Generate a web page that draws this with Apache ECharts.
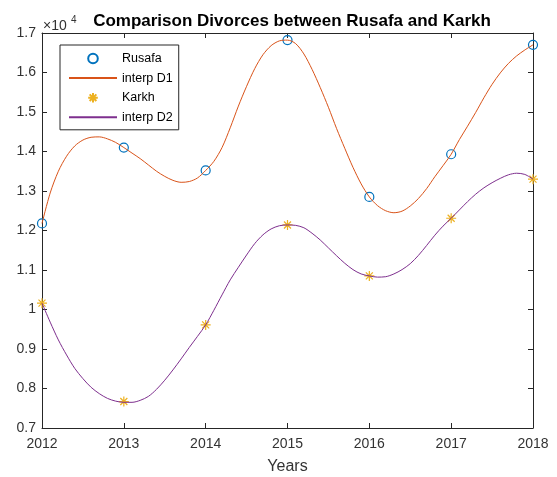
<!DOCTYPE html>
<html>
<head>
<meta charset="utf-8">
<script src="https://cdn.jsdelivr.net/npm/echarts@6/dist/echarts.min.js"></script>
<style>
html,body{margin:0;padding:0;background:#fff;}
#chart{width:557px;height:477px;}
</style>
</head>
<body>
<div id="chart"></div>
<script>
// Data (divorce counts)
var years = [2012, 2013, 2014, 2015, 2016, 2017, 2018];
var rusafa = [12180, 14100, 13520, 16820, 12850, 13930, 16700];
var karkh = [10160, 7670, 9610, 12140, 10850, 12310, 13300];

// Interpolated curves (every 0.1 year)
var interpYears = [2012, 2012.1, 2012.2, 2012.3, 2012.4, 2012.5, 2012.6, 2012.7, 2012.8, 2012.9,
  2013, 2013.1, 2013.2, 2013.3, 2013.4, 2013.5, 2013.6, 2013.7, 2013.8, 2013.9,
  2014, 2014.1, 2014.2, 2014.3, 2014.4, 2014.5, 2014.6, 2014.7, 2014.8, 2014.9,
  2015, 2015.1, 2015.2, 2015.3, 2015.4, 2015.5, 2015.6, 2015.7, 2015.8, 2015.9,
  2016, 2016.1, 2016.2, 2016.3, 2016.4, 2016.5, 2016.6, 2016.7, 2016.8, 2016.9,
  2017, 2017.1, 2017.2, 2017.3, 2017.4, 2017.5, 2017.6, 2017.7, 2017.8, 2017.9, 2018];
var interpD1Values = [12180, 12950, 13500, 13880, 14140, 14290, 14360, 14370, 14320, 14230,
  14100, 13960, 13820, 13660, 13500, 13370, 13270, 13220, 13240, 13330,
  13520, 13750, 14100, 14600, 15150, 15650, 16100, 16450, 16680, 16800,
  16820, 16730, 16470, 16080, 15620, 15120, 14580, 14080, 13600, 13180,
  12850, 12630, 12500, 12450, 12490, 12620, 12810, 13060, 13360, 13640,
  13930, 14300, 14640, 14990, 15360, 15700, 15990, 16230, 16420, 16570, 16700];
var interpD2Values = [10160, 9680, 9230, 8850, 8510, 8250, 8030, 7870, 7750, 7680,
  7650, 7650, 7700, 7800, 7980, 8210, 8470, 8750, 9040, 9320,
  9610, 9980, 10370, 10750, 11070, 11380, 11670, 11890, 12040, 12120,
  12140, 12130, 12070, 11930, 11760, 11560, 11360, 11170, 11010, 10900,
  10850, 10820, 10830, 10900, 11010, 11160, 11370, 11620, 11880, 12110,
  12310, 12520, 12730, 12920, 13080, 13210, 13320, 13410, 13450, 13420, 13300];

function pairs(xs, ys) { return xs.map(function (x, i) { return [x, ys[i]]; }); }

var axisColor = '#262626';
var labelColor = '#333';
var font = 'Liberation Sans, Arial, Helvetica, sans-serif';
var starPath = 'path://M10,0L10,20M0,10L20,10M3,3L17,17M3,17L17,3';

var chart = echarts.init(document.getElementById('chart'), null, {renderer: 'canvas'});
chart.setOption({
  animation: false,
  backgroundColor: '#fff',
  title: {
    text: 'Comparison Divorces between Rusafa and Karkh',
    left: 287, top: 8, textAlign: 'center',
    textStyle: {fontFamily: font, fontSize: 17, fontWeight: 'bold', color: '#000'}
  },
  graphic: [
    {type: 'text', left: 43, top: 19, style: {text: '×10', font: '14px ' + font, fill: labelColor}},
    {type: 'text', left: 71, top: 15, style: {text: '4', font: '10px ' + font, fill: labelColor}}
  ],
  grid: {left: 42, right: 24, top: 33, bottom: 49, containLabel: false, outerBoundsMode: 'none'},
  legend: {
    orient: 'vertical', left: 60, top: 45,
    padding: [7, 6, 6, 8], itemWidth: 48, itemHeight: 12, itemGap: 6.6,
    borderColor: axisColor, borderWidth: 1, backgroundColor: '#fff',
    textStyle: {fontFamily: font, fontSize: 12.5, color: '#000'},
    data: [
      {name: 'Rusafa'},
      {name: 'interp D1', itemStyle: {opacity: 0}},
      {name: 'Karkh'},
      {name: 'interp D2', itemStyle: {opacity: 0}}
    ]
  },
  xAxis: [{
    type: 'value', min: 2012, max: 2018, interval: 1,
    name: 'Years', nameLocation: 'middle', nameGap: 31,
    nameTextStyle: {fontFamily: font, fontSize: 16, color: labelColor},
    axisLine: {lineStyle: {color: axisColor, width: 1}},
    axisTick: {inside: true, length: 5, lineStyle: {color: axisColor}},
    axisLabel: {fontFamily: font, fontSize: 14, color: labelColor, margin: 9, formatter: function (v) { return String(v); }},
    splitLine: {show: false}
  }, {
    type: 'value', min: 2012, max: 2018, interval: 1, position: 'top',
    axisLine: {lineStyle: {color: axisColor, width: 1}},
    axisTick: {inside: true, length: 5, lineStyle: {color: axisColor}},
    axisLabel: {show: false}, splitLine: {show: false}
  }],
  yAxis: [{
    type: 'value', min: 7000, max: 17000, interval: 1000,
    axisLine: {show: true, lineStyle: {color: axisColor, width: 1}},
    axisTick: {show: true, inside: true, length: 5, lineStyle: {color: axisColor}},
    axisLabel: {fontFamily: font, fontSize: 14, color: labelColor, margin: 6,
      formatter: function (v) { return String(parseFloat((v / 10000).toFixed(1))); }},
    splitLine: {show: false}
  }, {
    type: 'value', min: 7000, max: 17000, interval: 1000, position: 'right',
    axisLine: {show: true, lineStyle: {color: axisColor, width: 1}},
    axisTick: {show: true, inside: true, length: 5, lineStyle: {color: axisColor}},
    axisLabel: {show: false}, splitLine: {show: false}
  }],
  series: [
    {
      name: 'Rusafa', type: 'line', xAxisIndex: 0, yAxisIndex: 0,
      data: pairs(years, rusafa),
      symbol: 'circle', symbolSize: 9, showSymbol: true,
      lineStyle: {width: 0, opacity: 0},
      itemStyle: {color: 'rgba(0,0,0,0)', borderColor: '#0072BD', borderWidth: 1.2},
      z: 3
    },
    {
      name: 'interp D1', type: 'line', xAxisIndex: 0, yAxisIndex: 0,
      data: pairs(interpYears, interpD1Values),
      symbol: 'none', smooth: 0.3,
      color: '#D95319',
      lineStyle: {color: '#D95319', width: 1},
      z: 4
    },
    {
      name: 'Karkh', type: 'line', xAxisIndex: 0, yAxisIndex: 0,
      data: pairs(years, karkh),
      symbol: starPath, symbolSize: 10, showSymbol: true,
      lineStyle: {width: 0, opacity: 0},
      itemStyle: {color: 'rgba(0,0,0,0)', borderColor: '#EDB120', borderWidth: 1.2},
      z: 5
    },
    {
      name: 'interp D2', type: 'line', xAxisIndex: 0, yAxisIndex: 0,
      data: pairs(interpYears, interpD2Values),
      symbol: 'none', smooth: 0.3,
      color: '#7E2F8E',
      lineStyle: {color: '#7E2F8E', width: 1},
      z: 6
    }
  ]
});
</script>
</body>
</html>
